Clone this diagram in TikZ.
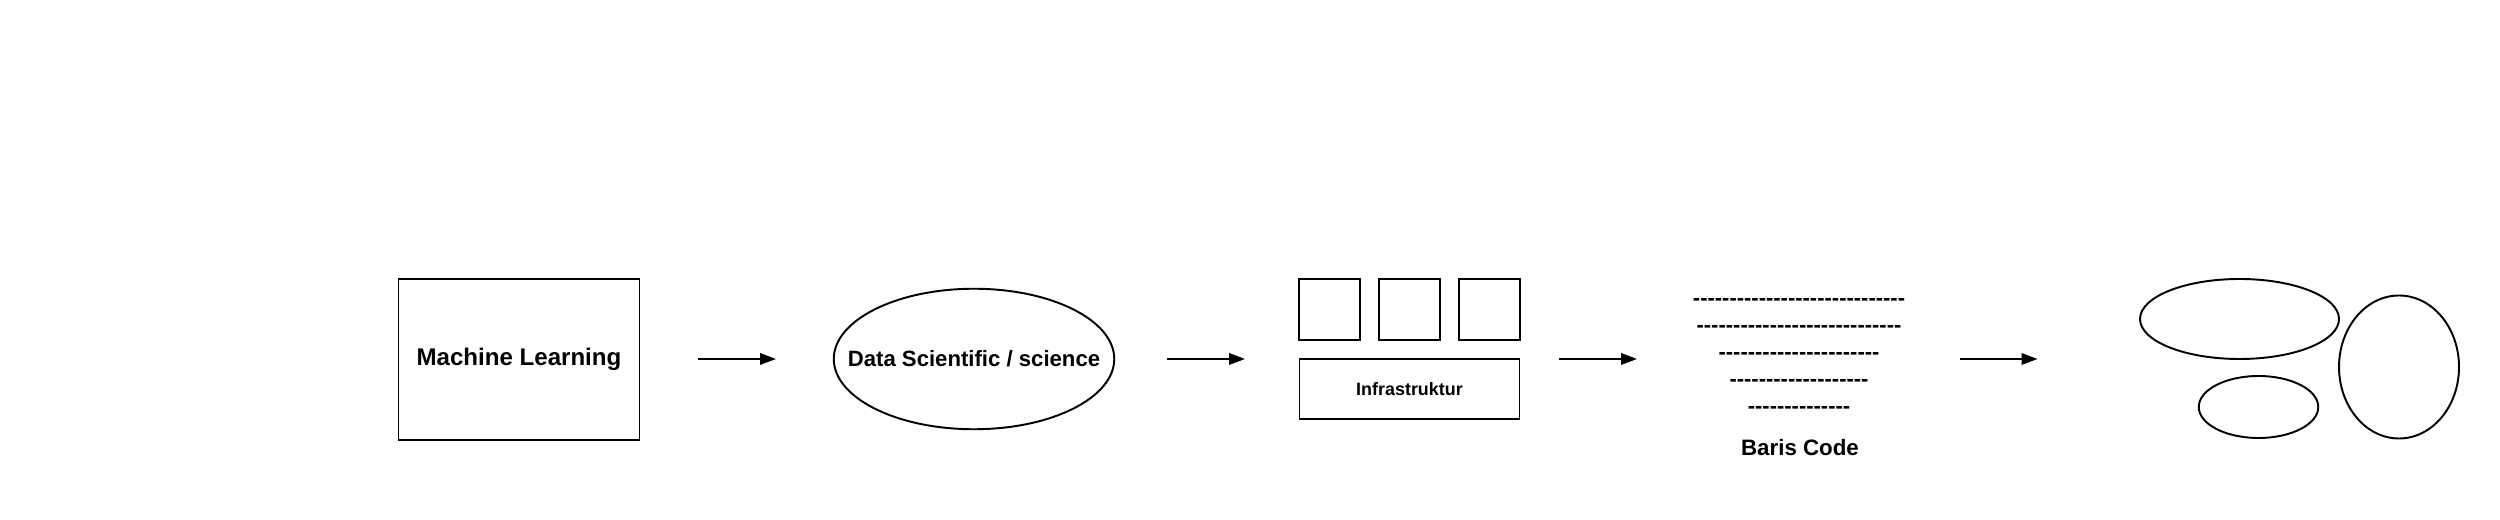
\documentclass[tikz,border=0pt]{standalone}
\usepackage{fontspec}
\setmainfont{Liberation Sans}
\newfontfamily\dashfont{Liberation Sans}[Ligatures=TeXOff]
\usetikzlibrary{arrows.meta,shapes.geometric}

\begin{document}
\begin{tikzpicture}[
  every node/.style={font=\bfseries},
  box/.style={draw, line width=1.1pt, inner sep=0pt},
  oval/.style={draw, ellipse, line width=1.1pt, inner sep=0pt},
  flow/.style={line width=1.1pt, -{Triangle[length=0.32cm,width=0.23cm]}}
]
  \useasboundingbox (0,0) rectangle (50,10.4);
  % machine learning
  \node[box, minimum width=4.82cm, minimum height=3.22cm,
    font=\bfseries\fontsize{13.7}{16}\selectfont] (ml) at (10.38,3.21) {Machine Learning};
  \coordinate (a1s) at (13.96,3.22);
  \coordinate (a1e) at (15.52,3.22);
  \draw[flow] (a1s) -- (a1e);
  % data science
  \node[oval, minimum width=5.61cm, minimum height=2.81cm,
    label={[font=\bfseries\fontsize{12.6}{15}\selectfont]center:Data Scientific / science}] (ds) at (19.48,3.22) {};
  \coordinate (a2s) at (23.34,3.22);
  \coordinate (a2e) at (24.90,3.22);
  \draw[flow] (a2s) -- (a2e);
  % infrastructure
  \node[box, minimum size=1.21cm] (sq1) at (26.59,4.21) {};
  \node[box, minimum size=1.21cm] (sq2) at (28.19,4.21) {};
  \node[box, minimum size=1.21cm] (sq3) at (29.79,4.21) {};
  \node[box, minimum width=4.40cm, minimum height=1.21cm,
    font=\bfseries\fontsize{10.2}{12}\selectfont] (infra) at (28.19,2.62) {Infrastruktur};
  \coordinate (a3s) at (31.18,3.22);
  \coordinate (a3e) at (32.74,3.22);
  \draw[flow] (a3s) -- (a3e);
  % code lines
  \node[align=center, font=\dashfont\bfseries\fontsize{12.5}{15.25}\selectfont] (lines) at (35.98,3.28)
    {-----------------------------\\
     ----------------------------\\
     ----------------------\\
     -------------------\\
     --------------};
  \node[font=\bfseries\fontsize{12.7}{15}\selectfont] (baris) at (36.0,1.44) {Baris Code};
  \coordinate (a4s) at (39.19,3.22);
  \coordinate (a4e) at (40.75,3.22);
  \draw[flow] (a4s) -- (a4e);
  % result
  \node[oval, minimum width=3.98cm, minimum height=1.60cm] (e1) at (44.79,4.02) {};
  \node[oval, minimum width=2.39cm, minimum height=1.24cm] (e2) at (45.17,2.26) {};
  \node[oval, minimum width=2.40cm, minimum height=2.86cm] (e3) at (47.98,3.06) {};
\end{tikzpicture}
\end{document}
